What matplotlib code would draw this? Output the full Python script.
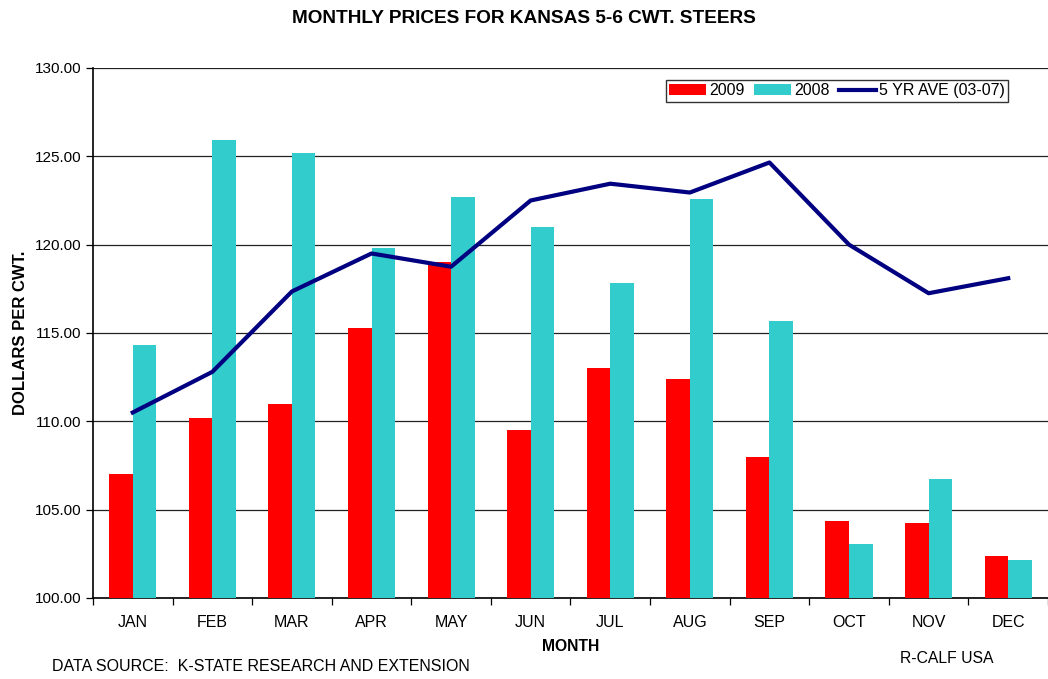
import matplotlib.pyplot as plt
import numpy as np

plt.rcParams['font.family'] = ['Liberation Sans', 'DejaVu Sans']

months = ['JAN', 'FEB', 'MAR', 'APR', 'MAY', 'JUN', 'JUL', 'AUG', 'SEP', 'OCT', 'NOV', 'DEC']
prices_2009 = [107.0, 110.2, 111.0, 115.3, 119.0, 109.5, 113.0, 112.4, 108.0, 104.35, 104.25, 102.4]
prices_2008 = [114.3, 125.9, 125.2, 119.8, 122.7, 121.0, 117.85, 122.6, 115.7, 103.05, 106.75, 102.15]
avg_5yr = [110.5, 112.8, 117.35, 119.5, 118.75, 122.5, 123.45, 122.95, 124.65, 120.0, 117.25, 118.1]

fig = plt.figure(figsize=(10.48, 6.79), dpi=100)
ax = fig.add_axes([0.0887, 0.1193, 0.9113, 0.7806])

x = np.arange(len(months))
w = 0.296
b1 = ax.bar(x - w / 2, np.array(prices_2009) - 100, w, bottom=100, color='#ff0000', label='2009', zorder=3)
b2 = ax.bar(x + w / 2, np.array(prices_2008) - 100, w, bottom=100, color='#33cccc', label='2008', zorder=3)
ln, = ax.plot(x, avg_5yr, color='#000080', lw=3, label='5 YR AVE (03-07)', zorder=4)

ax.set_xlim(-0.5, 11.5)
ax.set_ylim(100, 130)
ax.set_yticks(np.arange(100, 130.1, 5))
ax.set_yticklabels(['%.2f' % v for v in np.arange(100, 130.1, 5)], fontsize=11)
ax.yaxis.grid(True, color='#222222', lw=0.9, zorder=0)
ax.tick_params(axis='y', length=5, width=0.9, pad=3)

ax.set_xticks(x)
ax.set_xticklabels(months, fontsize=11.5)
ax.tick_params(axis='x', length=0, pad=12)
ax.set_xticks(np.arange(-0.5, 11.6, 1), minor=True)
ax.tick_params(axis='x', which='minor', length=5, width=0.9)

for side in ['top', 'right']:
    ax.spines[side].set_visible(False)
ax.spines['left'].set_linewidth(1.2)
ax.spines['bottom'].set_linewidth(1.2)

ax.set_xlabel('MONTH', fontsize=11.3, fontweight='bold', labelpad=7)
ax.set_ylabel('DOLLARS PER CWT.', fontsize=12, fontweight='bold', labelpad=5)
fig.text(0.5, 0.973, 'MONTHLY PRICES FOR KANSAS 5-6 CWT. STEERS', ha='center', va='center',
         fontsize=13.7, fontweight='bold')
fig.text(0.05, 0.018, 'DATA SOURCE:  K-STATE RESEARCH AND EXTENSION', ha='left', va='center', fontsize=11.5)
fig.text(0.859, 0.03, 'R-CALF USA', ha='left', va='center', fontsize=11.3)

leg = ax.legend([b1, b2, ln], ['2009', '2008', '5 YR AVE (03-07)'],
                loc='upper right', bbox_to_anchor=(0.9585, 0.977), ncol=3, fontsize=11.5,
                frameon=True, fancybox=False, edgecolor='black', borderpad=0.2,
                handlelength=2.3, handletextpad=0.2, columnspacing=0.6, borderaxespad=0)
leg.get_frame().set_linewidth(1.0)

fig.savefig('out.png', dpi=100)
